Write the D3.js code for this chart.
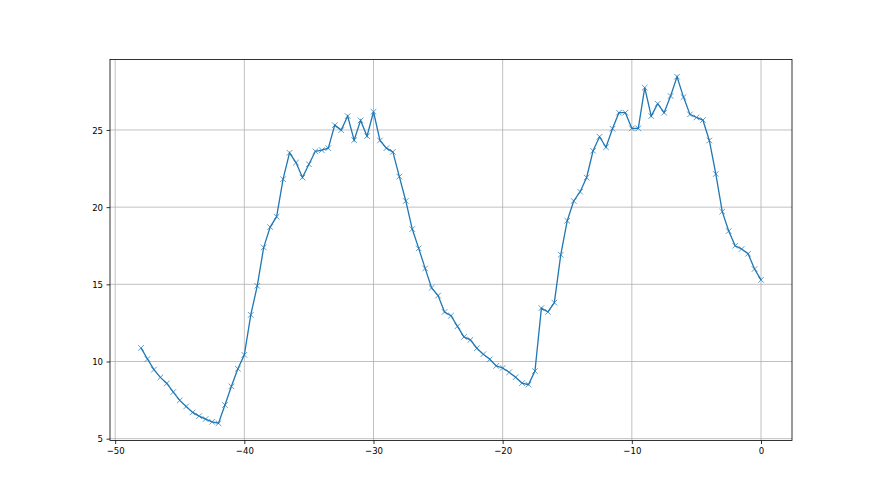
<!DOCTYPE html>
<html><head><meta charset="utf-8">
<script src="https://cdn.jsdelivr.net/npm/d3@7"></script>
<style>body{margin:0;background:#fff}svg{display:block}</style>
</head><body>
<script>
const xStart = -48, xStep = 0.5;
const values = [10.88,10.16,9.47,8.97,8.58,8.02,7.48,7.09,6.70,6.46,6.27,6.09,6.00,7.18,8.39,9.53,10.43,
13.02,14.90,17.39,18.71,19.38,21.81,23.52,22.89,21.92,22.78,23.62,23.69,23.82,25.31,24.99,25.90,24.34,25.62,24.60,26.18,
24.32,23.82,23.58,21.98,20.40,18.58,17.33,16.03,14.77,14.27,13.21,12.97,12.28,11.59,11.40,10.86,10.47,10.14,9.71,9.58,
9.30,8.98,8.60,8.50,9.38,13.46,13.21,13.81,16.92,19.12,20.40,21.00,21.92,23.65,24.56,23.88,25.08,26.12,26.12,25.10,25.10,
27.74,25.90,26.70,26.12,27.20,28.45,27.13,26.01,25.81,25.64,24.32,22.15,19.71,18.45,17.50,17.29,16.98,15.99,15.29];
const xs = values.map((v,i)=>xStart + i*xStep);
const xTicks = [-50,-40,-30,-20,-10,0];
const yTicks = [5,10,15,20,25];

const W=880,H=495, L=110, R=792, T=59.4, B=440.55;
const svg=d3.select("body").append("svg").attr("width",W).attr("height",H);
const xmin=d3.min(xs), xmax=d3.max(xs), ymin=d3.min(values), ymax=d3.max(values);
const xm=(xmax-xmin)*0.05, ym=(ymax-ymin)*0.05;
const x=d3.scaleLinear().domain([xmin-xm,xmax+xm]).range([L,R]);
const y=d3.scaleLinear().domain([ymin-ym,ymax+ym]).range([B,T]);
const fmt=d=>String(d).replace("-","\u2212");

const g=svg.append("g");
g.selectAll(".gx").data(xTicks).join("line").attr("x1",d=>x(d)).attr("x2",d=>x(d)).attr("y1",T).attr("y2",B)
 .attr("stroke","#b0b0b0").attr("stroke-width",0.8);
g.selectAll(".gy").data(yTicks).join("line").attr("y1",d=>y(d)).attr("y2",d=>y(d)).attr("x1",L).attr("x2",R)
 .attr("stroke","#b0b0b0").attr("stroke-width",0.8);

const line=d3.line().x((d,i)=>x(xs[i])).y(d=>y(d));
g.append("path").datum(values).attr("d",line).attr("fill","none").attr("stroke","#1f77b4").attr("stroke-width",1.3);
const s=2.8;
g.selectAll(".m").data(values).join("path")
 .attr("d",(d,i)=>{const cx=x(xs[i]),cy=y(d);return `M${cx-s},${cy-s}L${cx+s},${cy+s}M${cx-s},${cy+s}L${cx+s},${cy-s}`;})
 .attr("stroke","#1f77b4").attr("stroke-opacity",0.8).attr("stroke-width",0.9).attr("fill","none");

const xa=svg.append("g").attr("transform",`translate(0,${B})`)
 .call(d3.axisBottom(x).tickValues(xTicks).tickFormat(fmt).tickSizeInner(3.5).tickSizeOuter(0).tickPadding(3.5));
const ya=svg.append("g").attr("transform",`translate(${L},0)`)
 .call(d3.axisLeft(y).tickValues(yTicks).tickFormat(fmt).tickSizeInner(3.5).tickSizeOuter(0).tickPadding(3.5));
[xa,ya].forEach(a=>{a.select(".domain").remove();a.selectAll("line").attr("stroke","#000").attr("stroke-width",0.8);
 a.selectAll("text").attr("font-family","'DejaVu Sans Condensed','DejaVu Sans'").style("font-stretch","condensed")
  .attr("font-size",9.5).attr("fill","#000");});
svg.append("rect").attr("x",L).attr("y",T).attr("width",R-L).attr("height",B-T)
 .attr("fill","none").attr("stroke","#000").attr("stroke-width",0.8);
</script>
</body></html>
